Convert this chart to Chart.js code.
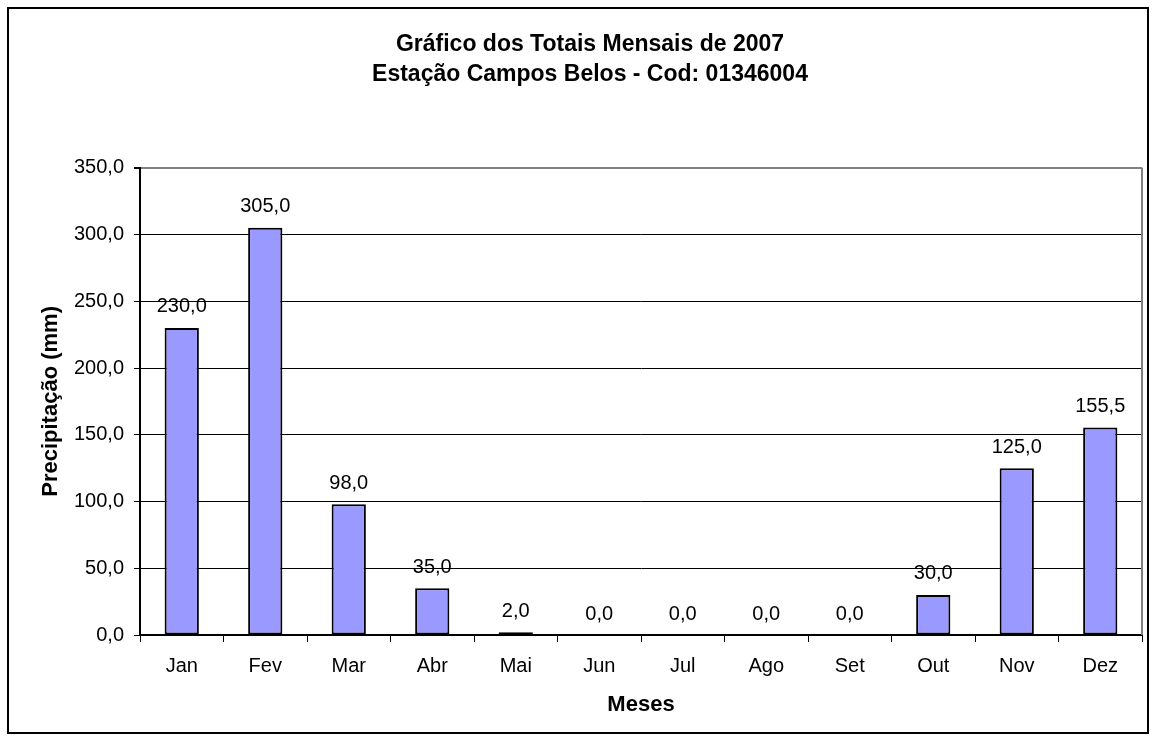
<!DOCTYPE html>
<html>
<head>
<meta charset="utf-8">
<script src="https://cdn.jsdelivr.net/npm/chart.js@4.4.0/dist/chart.umd.min.js"></script>
<style>
  html, body { margin: 0; padding: 0; background: #fff; }
  #wrap { width: 1155px; height: 740px; position: relative; }
</style>
</head>
<body>
<div id="wrap"><canvas id="mycanvas"></canvas></div>
<script>
// Data
var meses = ['Jan', 'Fev', 'Mar', 'Abr', 'Mai', 'Jun', 'Jul', 'Ago', 'Set', 'Out', 'Nov', 'Dez'];
var precipitacao = [230.0, 305.0, 98.0, 35.0, 2.0, 0.0, 0.0, 0.0, 0.0, 30.0, 125.0, 155.5];
var tituloLinhas = ['Gráfico dos Totais Mensais de 2007', 'Estação Campos Belos - Cod: 01346004'];
var yMax = 350;
var yStep = 50;

var fonte = '"Liberation Sans", Arial, sans-serif';

function virgula(v)
{
  return v.toFixed(1).replace('.', ',');
}

// Outer frame, plot border and value labels
var extras = {
  id: 'extras',
  afterLayout: function(chart)
  {
    // title sits a bit right of the page centre
    chart.titleBlock.left += 15;
    chart.titleBlock.right += 15;
  },
  beforeDraw: function(chart)
  {
    var c = chart.ctx;
    c.save();
    c.fillStyle = '#fff';
    c.fillRect(0, 0, chart.width, chart.height);
    c.strokeStyle = '#000';
    c.lineWidth = 2;
    c.strokeRect(8, 8, 1140, 725);
    c.restore();
  },
  afterDatasetsDraw: function(chart)
  {
    var c = chart.ctx;
    var a = chart.chartArea;
    c.save();
    // right border of plot area
    c.strokeStyle = '#808080';
    c.lineWidth = 2;
    c.beginPath();
    c.moveTo(a.right, a.top);
    c.lineTo(a.right, a.bottom);
    c.stroke();
    // value labels
    var meta = chart.getDatasetMeta(0);
    c.fillStyle = '#000';
    c.font = '20px ' + fonte;
    c.textAlign = 'center';
    c.textBaseline = 'middle';
    meta.data.forEach(function(bar, i)
    {
      c.fillText(virgula(precipitacao[i]), bar.x, bar.y - 21);
    });
    c.restore();
  }
};

var ctx = document.getElementById('mycanvas');
var grafico = new Chart(ctx,
{
  type: 'bar',
  data: {
    labels: meses,
    datasets: [{
      data: precipitacao,
      backgroundColor: '#9999FF',
      borderColor: '#000',
      borderWidth: 2,
      borderSkipped: false,
      barPercentage: 0.41,
      categoryPercentage: 1.0
    }]
  },
  options: {
    responsive: true,
    maintainAspectRatio: false,
    animation: false,
    layout: { padding: { top: 8, left: 8, right: 13, bottom: 5 } },
    plugins: {
      legend: { display: false },
      tooltip: { enabled: false },
      title: {
        display: true,
        text: tituloLinhas,
        color: '#000',
        font: { family: fonte, size: 23, weight: 'bold', lineHeight: 1.3 },
        padding: { top: 22, bottom: 78 }
      }
    },
    scales: {
      x: {
        offset: true,
        grid: {
          offset: true,
          drawOnChartArea: false,
          drawTicks: true,
          tickLength: 7,
          color: '#000',
          tickColor: '#000'
        },
        border: { color: '#000', width: 2 },
        ticks: { color: '#000', font: { family: fonte, size: 20 }, padding: 12 },
        title: {
          display: true,
          text: 'Meses',
          color: '#000',
          font: { family: fonte, size: 22, weight: 'bold' },
          padding: { top: 0, bottom: 17 }
        },
        afterFit: function(s) { s.height = 100; }
      },
      y: {
        min: 0,
        max: yMax,
        grid: {
          color: function(c) { return c.tick && c.tick.value === yMax ? '#808080' : '#000'; },
          lineWidth: function(c) { return c.tick && c.tick.value === yMax ? 2 : 1; },
          tickLength: 6,
          tickColor: '#000'
        },
        border: { color: '#000', width: 2 },
        ticks: {
          stepSize: yStep,
          color: '#000',
          font: { family: fonte, size: 20 },
          padding: 10,
          callback: function(v) { return virgula(v); }
        },
        title: {
          display: true,
          text: 'Precipitação (mm)',
          color: '#000',
          font: { family: fonte, size: 22, weight: 'bold' },
          padding: { top: 30, bottom: 0 }
        },
        afterFit: function(s) { s.width = 132; }
      }
    }
  },
  plugins: [extras]
});
</script>
</body>
</html>
